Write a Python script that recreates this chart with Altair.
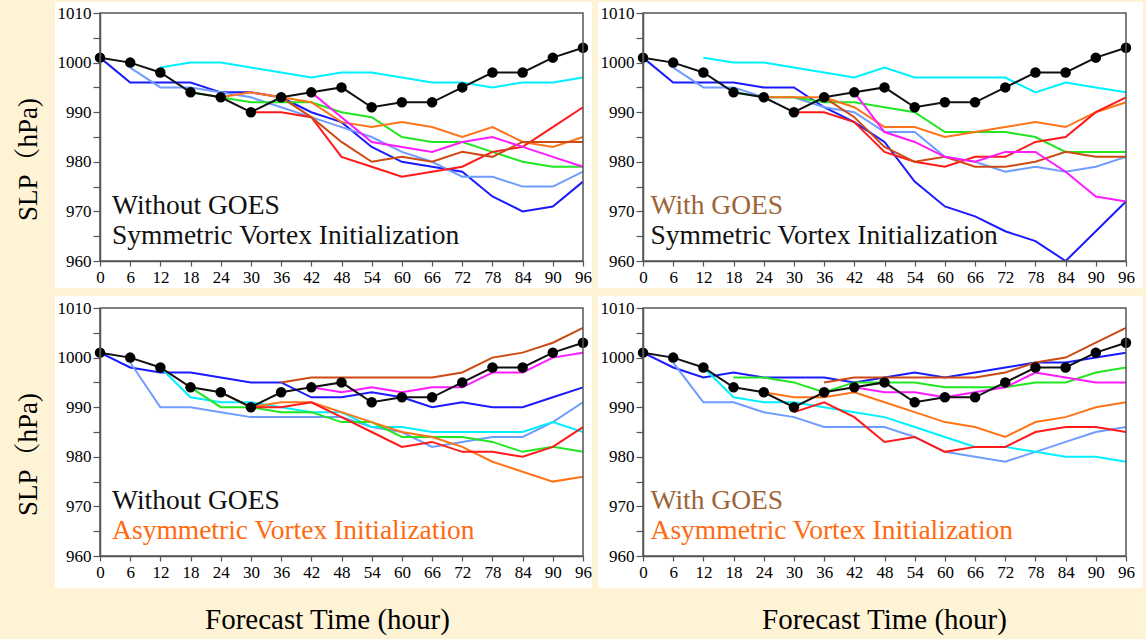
import altair as alt
import pandas as pd

SERIF = "Liberation Serif, Times New Roman, Noto Serif CJK SC, Noto Sans CJK SC, serif"

HOURS = list(range(0, 97, 6))
SLP_TICKS = list(range(960, 1011, 5))

# Observed (best-track) sea-level pressure, hPa
OBSERVED = [1001, 1000, 998, 994, 993, 990, 993, 994, 995, 991, 992, 992, 995, 998, 998, 1001, 1003]

# Time-lagged members: each one starts 6 h after the previous
MEMBERS = ["m00", "m06", "m12", "m18", "m24", "m30", "m36", "m42"]
MEMBER_START = [0, 6, 12, 18, 24, 30, 36, 42]
MEMBER_COLORS = ["#1a1aff", "#6e9cff", "#00f0ff", "#22e622",
                 "#ff7418", "#ff1a1a", "#cc4a14", "#ff1aff"]

# Without GOES, symmetric vortex initialization
NS_M00 = [1001, 996, 996, 996, 994, 994, 993, 990, 988, 983, 980, 979, 978, 973, 970, 971, 976]
NS_M06 = [999, 995, 995, 994, 993, 991, 989, 987, 985, 982, 980, 977, 977, 975, 975, 978]
NS_M12 = [999, 1000, 1000, 999, 998, 997, 998, 998, 997, 996, 996, 995, 996, 996, 997]
NS_M18 = [994, 993, 992, 992, 992, 990, 989, 985, 984, 984, 982, 980, 979, 979]
NS_M24 = [993, 994, 993, 992, 988, 987, 988, 987, 985, 987, 984, 983, 985]
NS_M30 = [990, 990, 989, 981, 979, 977, 978, 979, 982, 983, 987, 991]
NS_M36 = [993, 989, 984, 980, 981, 980, 982, 981, 984, 984, 984]
NS_M42 = [994, 989, 984, 983, 982, 984, 985, 983, 981, 979]

# With GOES, symmetric vortex initialization
GS_M00 = [1001, 996, 996, 996, 995, 995, 991, 988, 984, 976, 971, 969, 966, 964, 960, 966, 972]
GS_M06 = [999, 995, 995, 993, 993, 991, 990, 986, 986, 981, 980, 978, 979, 978, 979, 981]
GS_M12 = [1001, 1000, 1000, 999, 998, 997, 999, 997, 997, 997, 997, 994, 996, 995, 994]
GS_M18 = [994, 993, 993, 992, 992, 991, 990, 986, 986, 986, 985, 982, 982, 982]
GS_M24 = [993, 993, 993, 991, 987, 987, 985, 986, 987, 988, 987, 990, 992]
GS_M30 = [990, 990, 988, 982, 980, 979, 981, 981, 984, 985, 990, 993]
GS_M36 = [993, 989, 983, 980, 981, 979, 979, 980, 982, 981, 981]
GS_M42 = [994, 986, 984, 981, 980, 982, 982, 978, 973, 972]

# Without GOES, asymmetric vortex initialization
NA_M00 = [1001, 998, 997, 997, 996, 995, 995, 992, 992, 993, 992, 990, 991, 990, 990, 992, 994]
NA_M06 = [999, 990, 990, 989, 988, 988, 988, 988, 986, 985, 982, 983, 984, 984, 987, 991]
NA_M12 = [998, 992, 991, 991, 990, 989, 989, 986, 986, 985, 985, 985, 985, 987, 985]
NA_M18 = [994, 990, 990, 989, 989, 987, 987, 984, 984, 984, 983, 981, 982, 981]
NA_M24 = [993, 990, 991, 991, 989, 987, 985, 984, 982, 979, 977, 975, 976]
NA_M30 = [990, 990, 991, 988, 985, 982, 983, 981, 981, 980, 982, 986]
NA_M36 = [995, 996, 996, 996, 996, 996, 997, 1000, 1001, 1003, 1006]
NA_M42 = [994, 993, 994, 993, 994, 994, 997, 997, 1000, 1001]

# With GOES, asymmetric vortex initialization
GA_M00 = [1001, 998, 996, 997, 996, 996, 996, 995, 996, 997, 996, 997, 998, 999, 999, 1000, 1001]
GA_M06 = [999, 991, 991, 989, 988, 986, 986, 986, 984, 981, 980, 979, 981, 983, 985, 986]
GA_M12 = [998, 992, 991, 991, 990, 989, 988, 986, 984, 982, 982, 981, 980, 980, 979]
GA_M18 = [996, 996, 995, 993, 995, 995, 995, 994, 994, 994, 995, 995, 997, 998]
GA_M24 = [993, 992, 992, 993, 991, 989, 987, 986, 984, 987, 988, 990, 991]
GA_M30 = [989, 991, 988, 983, 984, 981, 982, 982, 985, 986, 986, 985]
GA_M36 = [995, 996, 996, 996, 996, 996, 997, 999, 1000, 1003, 1006]
GA_M42 = [994, 993, 993, 992, 993, 994, 997, 996, 995, 995]

GOES_OFF = "Without GOES"
GOES_ON = "With GOES"
SYMMETRIC = "Symmetric Vortex Initialization"
ASYMMETRIC = "Asymmetric Vortex Initialization"
BLACK = "#111111"
BROWN_TEXT = "#9c6437"
ORANGE_TEXT = "#ff6a10"

PLOT_W = 483
PLOT_H = 248

AXIS_STYLE = dict(
    labelFont=SERIF, labelFontSize=17, labelColor="black",
    labelFlush=False, labelOverlap=False,
    tickColor="#555555", tickWidth=1.2,
    domainColor="#555555", domainWidth=1.5,
    grid=False, zindex=2,
    titleFont=SERIF, titleFontWeight="normal", titleColor="black",
)


def panel(series, head, head_color, tail, tail_color, left, bottom):
    rows = []
    for name, start, vals in zip(MEMBERS, MEMBER_START, series):
        for i, v in enumerate(vals):
            rows.append({"member": name, "hour": start + 6 * i, "slp": v})
    ens = pd.DataFrame(rows)
    obs = pd.DataFrame({"hour": HOURS, "slp": OBSERVED})

    x_axis = dict(AXIS_STYLE, values=HOURS, tickSize=5, labelPadding=3, format="d")
    if bottom:
        x_axis.update(titleFontSize=29, titleY=63, titleBaseline="middle",
                      titleX=227 if left else 241)
    y_axis = dict(AXIS_STYLE, values=SLP_TICKS, tickSize=7, labelPadding=2, format="d",
                  labelExpr="datum.value % 10 === 0 ? datum.label : ''")
    if left:
        y_axis.update(titleFontSize=27, titleX=-72, titleY=146, titleAngle=-90,
                      titleAlign="center", titleBaseline="middle")

    x = alt.X("hour:Q", scale=alt.Scale(domain=[0, 96], nice=False, zero=False),
              axis=alt.Axis(**x_axis),
              title="Forecast Time (hour)" if bottom else None)
    y = alt.Y("slp:Q", scale=alt.Scale(domain=[960, 1010], nice=False, zero=False),
              axis=alt.Axis(**y_axis),
              title="SLP（hPa)" if left else None)

    # white card behind each panel, including its tick labels
    card = alt.Chart(pd.DataFrame({"k": [0]})).mark_rect(color="white").encode(
        x=alt.value(-45), x2=alt.value(492 if left else 500),
        y=alt.value(-11 if not bottom else -12), y2=alt.value(275 if not bottom else 280),
    )
    frame = alt.Chart(pd.DataFrame({"k": [0]})).mark_rect(
        fillOpacity=0, stroke="#555555", strokeWidth=1.5
    ).encode(x=alt.value(0), x2=alt.value(PLOT_W), y=alt.value(0), y2=alt.value(PLOT_H))

    members = alt.Chart(ens).mark_line(strokeWidth=2).encode(
        x=x, y=y,
        color=alt.Color("member:N", scale=alt.Scale(domain=MEMBERS, range=MEMBER_COLORS), legend=None),
        order=alt.Order("hour:Q"),
    )
    obs_line = alt.Chart(obs).mark_line(color=BLACK, strokeWidth=2).encode(x=x, y=y)
    obs_dots = alt.Chart(obs).mark_circle(color="black", size=110, opacity=1).encode(x=x, y=y)

    tx = 2.4 if left else 1.5
    notes = pd.DataFrame({
        "hour": [tx, tx],
        "slp": [969.4, 963.4],
        "note": [head, tail],
        "tone": [head_color, tail_color],
    })
    labels = alt.Chart(notes).mark_text(
        align="left", baseline="alphabetic", font=SERIF, fontSize=27.5
    ).encode(x=x, y=y, text="note:N", color=alt.Color("tone:N", scale=None))

    return alt.layer(card, members, obs_line, obs_dots, labels, frame).properties(
        width=PLOT_W, height=PLOT_H
    )


p1 = panel([NS_M00, NS_M06, NS_M12, NS_M18, NS_M24, NS_M30, NS_M36, NS_M42],
           GOES_OFF, BLACK, SYMMETRIC, BLACK, True, False)
p2 = panel([GS_M00, GS_M06, GS_M12, GS_M18, GS_M24, GS_M30, GS_M36, GS_M42],
           GOES_ON, BROWN_TEXT, SYMMETRIC, BLACK, False, False)
p3 = panel([NA_M00, NA_M06, NA_M12, NA_M18, NA_M24, NA_M30, NA_M36, NA_M42],
           GOES_OFF, BLACK, ASYMMETRIC, ORANGE_TEXT, True, True)
p4 = panel([GA_M00, GA_M06, GA_M12, GA_M18, GA_M24, GA_M30, GA_M36, GA_M42],
           GOES_ON, BROWN_TEXT, ASYMMETRIC, ORANGE_TEXT, False, True)

chart = alt.concat(
    p1, p2, p3, p4, columns=2, spacing={"row": 47, "column": 60}, bounds="flush"
).properties(
    autosize=alt.AutoSizeParams(type="none"),
    padding={"left": 100, "top": 13, "right": 1046, "bottom": 626},
).configure(
    background="#fff3d6",
).configure_view(
    stroke=None,
)

chart.save("out.html", embed_options={"renderer": "svg", "actions": False})
